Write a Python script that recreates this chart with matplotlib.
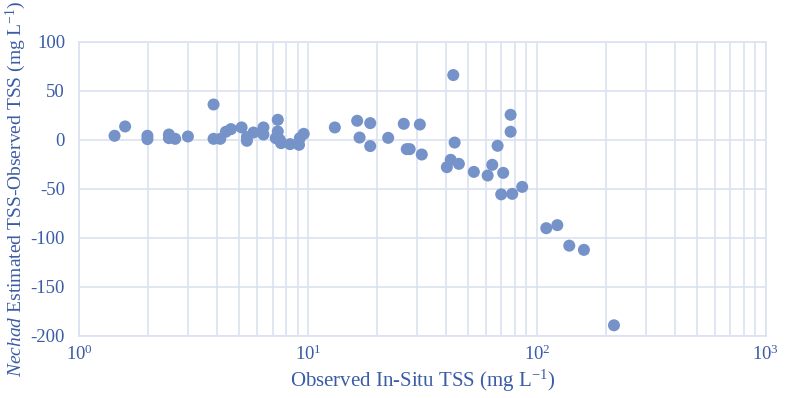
import matplotlib
matplotlib.use('Agg')
import matplotlib.pyplot as plt
from matplotlib.ticker import LogLocator, MultipleLocator

# Observed in-situ TSS (mg/L) and Nechad estimate minus observed (mg/L)
observed_tss = [1.43, 1.59, 1.99, 1.99, 2.47, 2.47, 2.63, 2.99, 3.87, 3.87,
                4.14, 4.38, 4.61, 5.13, 5.41, 5.41, 5.78, 6.39, 6.39, 7.38,
                7.38, 7.23, 7.53, 7.63, 8.35, 9.14, 9.21, 9.58, 13.1, 16.4,
                16.8, 18.7, 18.7, 22.4, 26.2, 27.0, 27.8, 30.8, 31.4, 43.1,
                43.7, 42.0, 40.4, 45.6, 53.0, 60.9, 63.8, 67.3, 71.2, 76.7,
                76.7, 69.8, 78.0, 86.2, 109.8, 122.7, 138.4, 160.3, 216.9]
tss_difference = [4.1, 13.6, 4.1, 0.7, 5.4, 1.7, 1.0, 3.4, 36.0, 1.0,
                  1.0, 8.2, 10.9, 12.6, -1.0, 2.8, 7.4, 12.6, 5.4, 20.4,
                  8.5, 1.7, 0.0, -3.4, -4.4, -5.1, 1.7, 6.1, 12.6, 19.4,
                  2.3, 17.0, -6.4, 2.0, 16.3, -9.5, -9.5, 15.6, -15.0, 66.0,
                  -2.8, -20.4, -27.9, -24.5, -32.7, -36.4, -25.5, -6.1, -33.7, 25.5,
                  8.2, -55.6, -55.1, -48.0, -90.1, -87.0, -107.9, -112.2, -189.1]

text_color = '#3b5ca6'
grid_color = '#dbe2f1'
dot_color = '#7592c9'

plt.rcParams['font.family'] = ['Liberation Serif', 'DejaVu Serif']
plt.rcParams['mathtext.fontset'] = 'custom'
plt.rcParams['mathtext.rm'] = 'Liberation Serif'
plt.rcParams['mathtext.it'] = 'Liberation Serif:italic'
plt.rcParams['axes.unicode_minus'] = False

fig = plt.figure(figsize=(7.86, 3.98), dpi=100)
ax = fig.add_axes([0.1005, 0.1558, 0.874, 0.7394])

ax.scatter(observed_tss, tss_difference, s=75, color=dot_color,
           edgecolors='none', zorder=3)

ax.set_xscale('log')
ax.set_xlim(1, 1000)
ax.set_ylim(-200, 100)
ax.yaxis.set_major_locator(MultipleLocator(50))
ax.xaxis.set_major_locator(LogLocator(base=10, numticks=10))
ax.xaxis.set_minor_locator(LogLocator(base=10, subs=range(2, 10), numticks=20))

ax.grid(True, which='major', color=grid_color, linewidth=1.2)
ax.grid(True, which='minor', axis='x', color=grid_color, linewidth=1.2)
for spine in ax.spines.values():
    spine.set_color(grid_color)
    spine.set_linewidth(1.2)

ax.tick_params(which='both', length=0, colors=text_color, labelsize=13.5)
ax.tick_params(axis='x', pad=6)
ax.tick_params(axis='y', pad=10)

ax.set_xlabel('Observed In-Situ TSS (mg L$^{-1}$)', color=text_color,
              fontsize=15, labelpad=3)
ax.set_ylabel(r'$\mathit{Nechad}$ Estimated TSS-Observed TSS (mg L$^{-1}$)',
              color=text_color, fontsize=14, labelpad=2)

fig.savefig('out.png', dpi=100)
